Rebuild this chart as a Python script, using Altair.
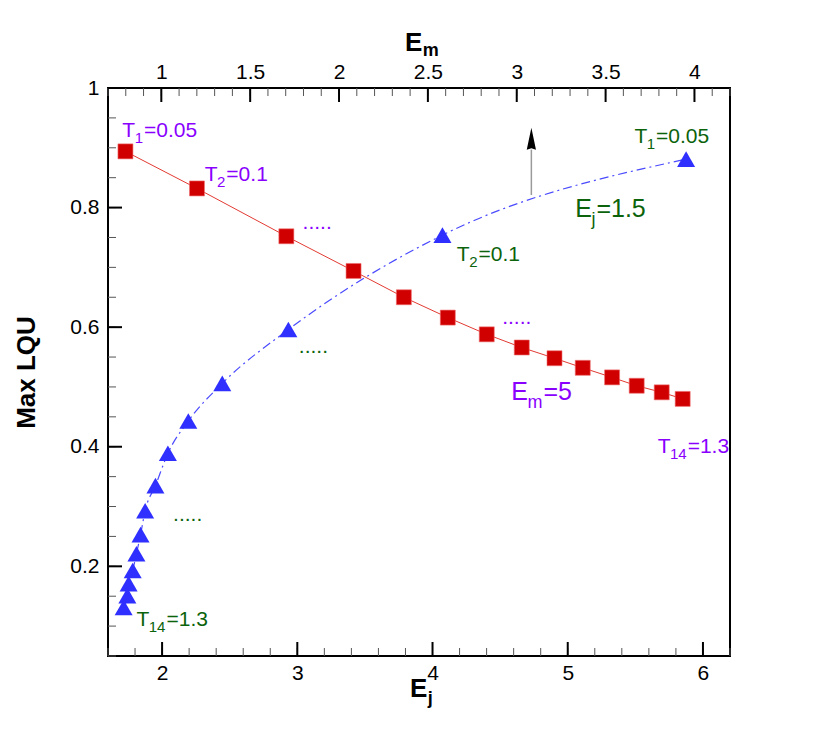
import altair as alt
import pandas as pd
import numpy as np

# ---------------- data ----------------
# Em = 5 series (x = Ej, bottom axis)
red_ej = [1.729, 2.258, 2.919, 3.416, 3.788, 4.113, 4.401, 4.660, 4.902, 5.111, 5.328, 5.510, 5.695, 5.850]
red_lqu = [0.894, 0.832, 0.752, 0.694, 0.650, 0.616, 0.588, 0.566, 0.548, 0.532, 0.516, 0.502, 0.491, 0.480]

# Ej = 1.5 series (x = Em, top axis)
blue_em = [3.953, 2.582, 1.715, 1.343, 1.152, 1.037, 0.967, 0.909, 0.883, 0.860, 0.839, 0.816, 0.809, 0.788]
blue_lqu = [0.881, 0.754, 0.596, 0.506, 0.443, 0.389, 0.335, 0.293, 0.253, 0.221, 0.193, 0.171, 0.151, 0.131]

# annotations of the Em = 5 series (anchored in Ej units)
purple_base = ["T", "T", "T"]
purple_sub = ["1", "2", "14"]
purple_rest = ["=0.05", "=0.1", "=1.3"]
purple_ej = [1.706, 2.315, 5.665]
purple_lqu = [0.918, 0.844, 0.390]
purple_dots_ej = [3.039, 4.515]
purple_dots_lqu = [0.764, 0.606]
purple_big = ("E", "m", "=5")
purple_big_ej = 4.582
purple_big_lqu = 0.478

# annotations of the Ej = 1.5 series (anchored in Em units)
green_base = ["T", "T", "T"]
green_sub = ["1", "2", "14"]
green_rest = ["=0.05", "=0.1", "=1.3"]
green_em = [3.662, 2.663, 0.860]
green_lqu = [0.908, 0.711, 0.100]
green_dots_em = [1.774, 1.066]
green_dots_lqu = [0.556, 0.276]
green_big = ("E", "j", "=1.5")
green_big_em = 3.329
green_big_lqu = 0.784

# arrow (in Ej units)
arrow_ej = [4.731]
arrow_from = [0.821]
arrow_to = [0.897]
arrow_head = [0.915]

# axes
ej_domain = [1.6, 6.2]
em_domain = [0.7, 4.2]
y_domain = [0.05, 1.0]
ej_major = [2, 3, 4, 5, 6]
ej_minor = [round(v, 2) for v in np.arange(1.6, 6.21, 0.2)]
em_major = [1, 1.5, 2, 2.5, 3, 3.5, 4]
em_minor = [round(v, 2) for v in np.arange(0.7, 4.21, 0.1)]
y_major = [0.2, 0.4, 0.6, 0.8, 1.0]
y_minor = [round(v, 2) for v in np.arange(0.05, 1.001, 0.05)]
x_title_bottom = ("E", "j")
x_title_top = ("E", "m")

W, H = 622, 568
FONT = "Liberation Sans, Arial, DejaVu Sans, sans-serif"
PURPLE = "#8a00ff"
GREEN = "#0b630b"
RED = "#d10000"
BLUE = "#2f2fff"

# Arial / Liberation Sans advance widths (per 1000 em) for placing subscripts
ADV = {"T": 611, "E": 667, "m": 833, "j": 222, "=": 584, ".": 278}
for d in "0123456789":
    ADV[d] = 556


def tw(s, size):
    return sum(ADV[c] for c in s) / 1000.0 * size


red_df = pd.DataFrame({"Ej": red_ej, "LQU": red_lqu})
blue_df = pd.DataFrame({"Em": blue_em, "LQU": blue_lqu})

ysc = alt.Scale(domain=y_domain, nice=False, zero=False)
ej_sc = alt.Scale(domain=ej_domain, nice=False, zero=False)
em_sc = alt.Scale(domain=em_domain, nice=False, zero=False)

bottom_axis = alt.Axis(values=ej_major, format="~g", ticks=False, domain=False, grid=False,
                       labelFontSize=21, labelFont=FONT, labelColor="black", labelPadding=6,
                       title="")
left_axis = alt.Axis(values=y_major, format="~g", ticks=False, domain=False, grid=False,
                     labelFontSize=21, labelFont=FONT, labelColor="black", labelPadding=9,
                     title="Max LQU", titleFont=FONT, titleFontSize=26, titleFontWeight="bold",
                     titleColor="black", titlePadding=30)
top_axis = alt.Axis(orient="top", values=em_major, format="~g", ticks=False, domain=False, grid=False,
                    labelFontSize=21, labelFont=FONT, labelColor="black", labelPadding=6,
                    title="")


def Yq(field="LQU"):
    return alt.Y(field, type="quantitative", scale=ysc, axis=left_axis)


def Xej(field="Ej"):
    return alt.X(field, type="quantitative", scale=ej_sc, axis=bottom_axis)


def Xem(field="Em"):
    return alt.X(field, type="quantitative", scale=em_sc, axis=top_axis)


def sub_label(xname, xfn, xv, yv, base, sub, rest, color, size, sub_size, sub_dy):
    """A label such as T_1=0.05 built from three real text pieces."""
    row = pd.DataFrame({xname: [xv], "LQU": [yv], "a": [base], "b": [sub], "c": [rest]})
    common = dict(align="left", baseline="alphabetic", font=FONT, color=color)
    w_base = tw(base, size)
    w_sub = tw(sub, sub_size)
    p1 = alt.Chart(row).mark_text(fontSize=size, **common).encode(x=xfn(), y=Yq(), text="a:N")
    p2 = alt.Chart(row).mark_text(fontSize=sub_size, dx=w_base - 0.5, dy=sub_dy, **common).encode(
        x=xfn(), y=Yq(), text="b:N")
    p3 = alt.Chart(row).mark_text(fontSize=size, dx=w_base + w_sub + 0.5, **common).encode(
        x=xfn(), y=Yq(), text="c:N")
    return [p1, p2, p3]


def axis_title(base, sub, px, py, sub_dy):
    """Bold axis title with a subscript, placed in the chart's pixel frame."""
    row = pd.DataFrame({"a": [base], "b": [sub]})
    common = dict(align="left", baseline="alphabetic", font=FONT, fontWeight="bold", color="black")
    t1 = alt.Chart(row).mark_text(fontSize=26, **common).encode(
        x=alt.value(px), y=alt.value(py), text="a:N")
    t2 = alt.Chart(row).mark_text(fontSize=18, dx=tw(base, 26) + 0.5, dy=sub_dy, **common).encode(
        x=alt.value(px), y=alt.value(py), text="b:N")
    return [t1, t2]


# ---------------- Em = 5 group (bottom axis) ----------------
red_line = alt.Chart(red_df).mark_line(color="#e23a32", strokeWidth=1).encode(
    x=Xej(), y=Yq())
red_pts = alt.Chart(red_df).mark_point(shape="square", filled=True, size=225, color=RED,
                                       opacity=1, stroke="#f07070", strokeWidth=0.6).encode(
    x=Xej(), y=Yq())

red_labels = []
for i in range(len(purple_base)):
    red_labels += sub_label("Ej", Xej, purple_ej[i], purple_lqu[i], purple_base[i], purple_sub[i],
                            purple_rest[i], PURPLE, 21, 15, 6)
red_labels += sub_label("Ej", Xej, purple_big_ej, purple_big_lqu, *purple_big, PURPLE, 25, 18, 8)
pdots = pd.DataFrame({"Ej": purple_dots_ej, "LQU": purple_dots_lqu, "t": ["....."] * 2})
red_dots = alt.Chart(pdots).mark_text(align="left", baseline="alphabetic", font=FONT, fontSize=21,
                                      color=PURPLE).encode(x=Xej(), y=Yq(), text="t:N")

arr = pd.DataFrame({"Ej": arrow_ej, "a": arrow_from, "b": arrow_to, "h": arrow_head})
arrow_shaft = alt.Chart(arr).mark_rule(color="#9a9a9a", strokeWidth=1.5).encode(
    x=Xej(), y=Yq("a"), y2="b")
arrow_tip = alt.Chart(arr).mark_point(shape="M0,-1L0.42,1L0,0.85L-0.42,1Z", filled=True,
                                      size=484, color="black", opacity=1).encode(
    x=Xej(), y=Yq("h"))

ejmaj = pd.DataFrame({"Ej": ej_major})
ejmin = pd.DataFrame({"Ej": ej_minor})
ej_tick_major = alt.Chart(ejmaj).mark_rule(color="black", strokeWidth=2).encode(
    x=Xej(), y=alt.value(H), y2=alt.value(H - 14))
ej_tick_minor = alt.Chart(ejmin).mark_rule(color="#555555", strokeWidth=1).encode(
    x=Xej(), y=alt.value(H), y2=alt.value(H - 8))

ymaj = pd.DataFrame({"LQU": y_major})
ymin = pd.DataFrame({"LQU": y_minor})
y_tick_major = alt.Chart(ymaj).mark_rule(color="black", strokeWidth=2).encode(
    y=Yq(), x=alt.value(0), x2=alt.value(14))
y_tick_minor = alt.Chart(ymin).mark_rule(color="#555555", strokeWidth=1).encode(
    y=Yq(), x=alt.value(0), x2=alt.value(8))

bottom_title = axis_title(*x_title_bottom, 302, H + 41, 7)

red_group = alt.layer(red_line, ej_tick_minor, ej_tick_major, y_tick_minor, y_tick_major,
                      arrow_shaft, arrow_tip, red_pts, red_dots, *red_labels, *bottom_title)

# ---------------- Ej = 1.5 group (top axis) ----------------
blue_line = alt.Chart(blue_df).mark_line(color="#4a4aff", strokeWidth=1.2, strokeDash=[9, 4, 2, 4],
                                         interpolate="monotone").encode(
    x=Xem(), y=Yq())
blue_pts = alt.Chart(blue_df).mark_point(shape="triangle-up", filled=True, size=324, color=BLUE,
                                         opacity=1).encode(x=Xem(), y=Yq())

blue_labels = []
for i in range(len(green_base)):
    blue_labels += sub_label("Em", Xem, green_em[i], green_lqu[i], green_base[i], green_sub[i],
                             green_rest[i], GREEN, 21, 15, 6)
blue_labels += sub_label("Em", Xem, green_big_em, green_big_lqu, *green_big, GREEN, 25, 18, 8)
gdots = pd.DataFrame({"Em": green_dots_em, "LQU": green_dots_lqu, "t": ["....."] * 2})
blue_dots = alt.Chart(gdots).mark_text(align="left", baseline="alphabetic", font=FONT, fontSize=21,
                                       color=GREEN).encode(x=Xem(), y=Yq(), text="t:N")

emmaj = pd.DataFrame({"Em": em_major})
emmin = pd.DataFrame({"Em": em_minor})
em_tick_major = alt.Chart(emmaj).mark_rule(color="black", strokeWidth=2).encode(
    x=Xem(), y=alt.value(0), y2=alt.value(14))
em_tick_minor = alt.Chart(emmin).mark_rule(color="#555555", strokeWidth=1).encode(
    x=Xem(), y=alt.value(0), y2=alt.value(8))

top_title = axis_title(*x_title_top, 297, -37, 5)

blue_group = alt.layer(blue_line, em_tick_minor, em_tick_major, blue_pts, blue_dots, *blue_labels,
                       *top_title)

chart = alt.layer(blue_group, red_group).resolve_scale(x="independent").properties(
    width=W, height=H,
    autosize=alt.AutoSizeParams(type="none"),
    padding={"left": 100, "top": 80, "right": 60, "bottom": 70},
    background="white",
).configure_view(stroke="black", strokeWidth=2)

chart.save("out.html", embed_options={"renderer": "svg", "actions": False})
